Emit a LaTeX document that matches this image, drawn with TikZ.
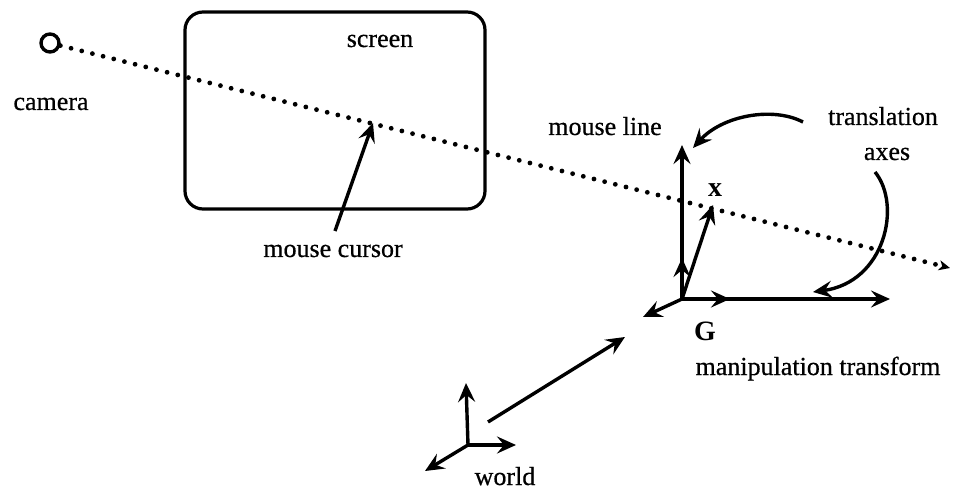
\documentclass[tikz,border=0pt]{standalone}
\usepackage{fontspec}
\setmainfont{Liberation Serif}[UprightFeatures={FakeBold=0.6}]
\usetikzlibrary{arrows.meta}
\begin{document}
\begin{tikzpicture}[x=1pt,y=-1pt,
  lbl/.style={anchor=base,inner sep=0pt,font=\fontsize{26}{30}\selectfont},
  boldlbl/.style={lbl,font=\fontsize{28}{32}\selectfont\bfseries},
  vec/.style={line width=3.4pt,-{Stealth[length=19pt,width=17pt,inset=7pt]}},
  ray/.style={line width=4.8pt,line cap=round,dash pattern=on 0pt off 11pt,
    -{Stealth[length=11pt,width=10pt,inset=3pt]}},
  frame/.style={line width=3.2pt,rounded corners=18pt}]
\useasboundingbox (0,0) rectangle (956,489);

% camera and the screen
\node (cam) [circle,draw,line width=3.4pt,minimum size=18pt,inner sep=0pt] at (50,43) {};
\draw[frame] (185,12) rectangle (485,209);
\node[lbl] (camlbl) at (51,110) {camera};
\node[lbl] (scrlbl) at (380,47) {screen};

% mouse line through the cursor
\coordinate (cursor) at (373,123);
\coordinate (rayend) at (950,268);
\draw[ray] (cam) -- (rayend);
\node[lbl] (curlbl) at (333,257) {mouse cursor};
\coordinate (curtail) at (335,231);
\draw[vec] (curtail) -- (cursor);

% manipulation frame G
\coordinate (G) at (682,299);
\coordinate (Gup) at (682,145);
\coordinate (Gup2) at (682,258);
\coordinate (Gx) at (713,205);
\coordinate (Grt) at (730,299);
\coordinate (Grt2) at (890,299);
\coordinate (Gdl) at (643,317);
\draw[vec] (G) -- (Gup);
\draw[vec] (G) -- (Gup2);
\draw[vec] (G) -- (Gx);
\draw[vec] (G) -- (Grt2);
\draw[vec] (G) -- (Grt);
\draw[vec] (G) -- (Gdl);
\node[boldlbl] (xlbl) at (715,197) {x};
\node[boldlbl] (Glbl) at (705,340) {G};
\node[lbl] (mtlbl) at (818,375) {manipulation transform};
\node[lbl] (mllbl) at (605,135) {mouse line};

% translation axes callouts
\node[lbl] (tr1) at (883,125) {translation};
\node[lbl] (tr2) at (887,160) {axes};
\coordinate (c1s) at (803,122);
\coordinate (c1e) at (693,148);
\coordinate (c2s) at (875,172);
\coordinate (c2e) at (813,292);
\draw[vec] (c1s) .. controls (772,106) and (722,116) .. (c1e);
\draw[vec] (c2s) .. controls (902,205) and (885,282) .. (c2e);

% world frame
\coordinate (W) at (468,445);
\coordinate (Wup) at (466,383);
\coordinate (Wrt) at (516,445);
\coordinate (Wdl) at (425,471);
\draw[vec] (W) -- (Wup);
\draw[vec] (W) -- (Wrt);
\draw[vec] (W) -- (Wdl);
\node[lbl] (wlbl) at (505,485) {world};
\coordinate (Ws) at (488,422);
\coordinate (We) at (625,337);
\draw[vec] (Ws) -- (We);
\end{tikzpicture}
\end{document}
